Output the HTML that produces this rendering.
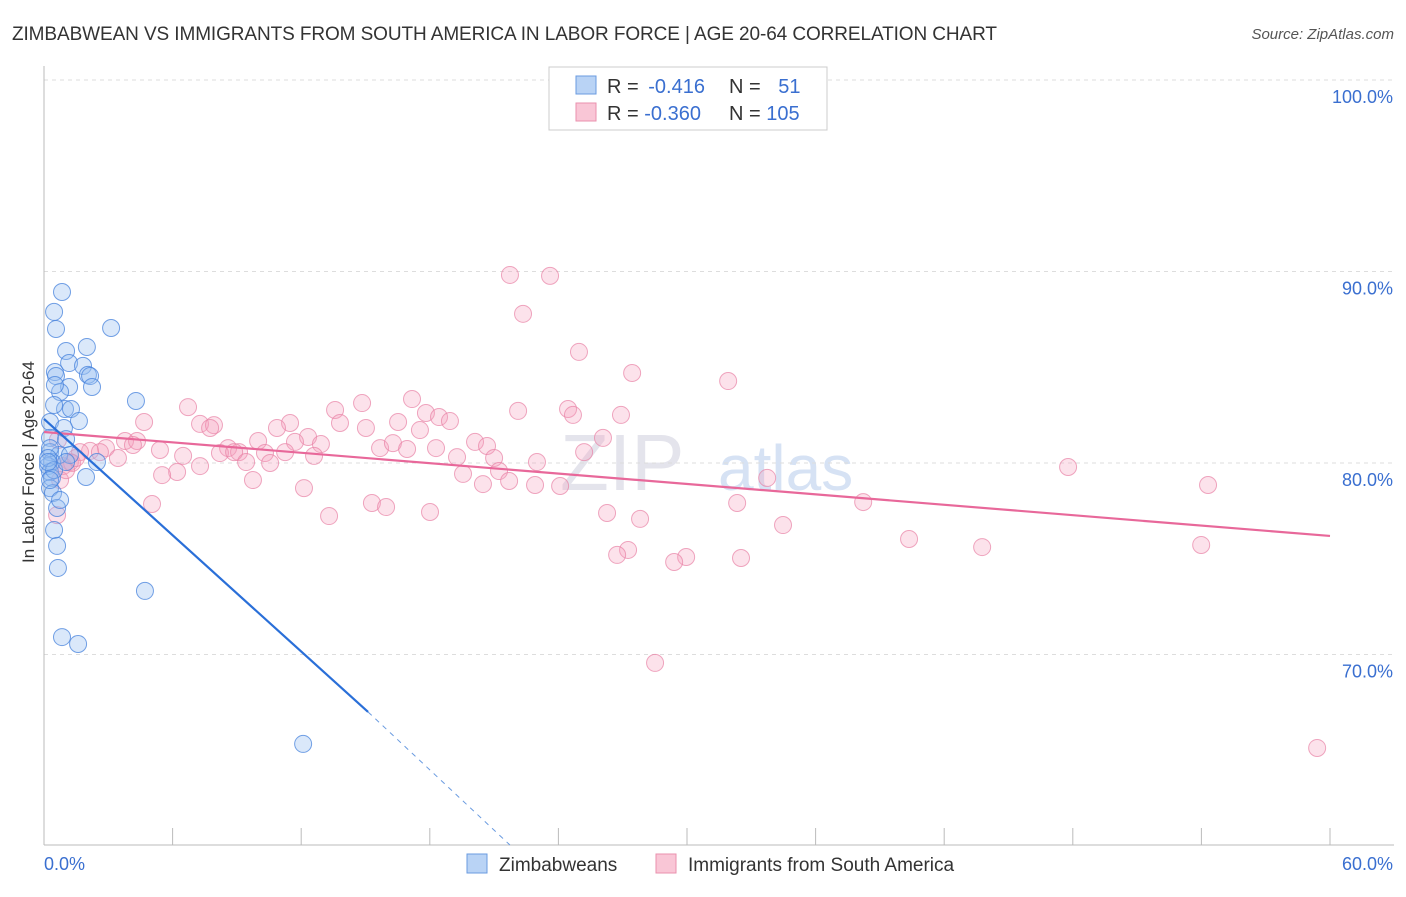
<!DOCTYPE html>
<html><head><meta charset="utf-8"><style>
body{margin:0;background:#fff;font-family:"Liberation Sans",sans-serif}
svg text{font-family:"Liberation Sans",sans-serif}
</style></head><body>
<svg width="1406" height="892" id="c">
<text x="12" y="40" font-size="19" fill="#333" textLength="985">ZIMBABWEAN VS IMMIGRANTS FROM SOUTH AMERICA IN LABOR FORCE | AGE 20-64 CORRELATION CHART</text>
<text x="1394" y="39" font-size="15" fill="#555" text-anchor="end" font-style="italic">Source: ZipAtlas.com</text>
<text x="30" y="458" font-size="17" fill="#333" text-anchor="middle" transform="rotate(-90 34 458)">In Labor Force | Age 20-64</text>
<text x="560" y="490" font-size="80" fill="#e4e4ec" font-family="Liberation Serif">ZIP</text>
<text x="718" y="490" font-size="64" fill="#d6e2f4">atlas</text>
<g id="grid"></g><g id="pts"></g><g id="lines"></g>
<g>
<rect x="549" y="67" width="278" height="63" fill="#fff" stroke="#ccc"/>
<rect x="576" y="76" width="20" height="18" fill="#b9d3f5" stroke="#6a9be0"/>
<rect x="576" y="103" width="20" height="18" fill="#f9c6d6" stroke="#ea90ae"/>
<text x="607" y="93" font-size="20" fill="#333">R = <tspan fill="#3a6fd0" dx="4">-0.416</tspan></text>
<text x="729" y="93" font-size="20" fill="#333">N = <tspan fill="#3a6fd0" dx="12">51</tspan></text>
<text x="607" y="120" font-size="20" fill="#333">R = <tspan fill="#3a6fd0">-0.360</tspan></text>
<text x="729" y="120" font-size="20" fill="#333">N = <tspan fill="#3a6fd0">105</tspan></text>
</g>
<g>
<rect x="467" y="854" width="20" height="19" fill="#b9d3f5" stroke="#6a9be0"/>
<text x="499" y="871" font-size="19" fill="#333">Zimbabweans</text>
<rect x="656" y="854" width="20" height="19" fill="#f9c6d6" stroke="#ea90ae"/>
<text x="688" y="871" font-size="19" fill="#333">Immigrants from South America</text>
</g>
</svg>
<script>
const xTicks=[0,6,12,18,24,30,36,42,48,54,60];
const yTicks=[70,80,90,100];
const blueX=[0.84,0.47,0.56,3.13,1.03,2.0,1.17,1.82,2.05,2.15,0.51,0.56,1.17,2.24,0.75,0.51,4.29,0.98,1.26,0.47,1.63,0.28,0.93,0.28,1.03,0.28,0.7,2.47,0.37,0.19,0.28,1.96,0.37,0.28,0.42,0.61,0.47,0.61,0.65,0.84,1.59,4.71,12.09,0.28,0.19,1.21,0.47,0.75,0.28,0.19,1.03];
const blueY=[88.93,87.89,87.0,87.05,85.85,86.06,85.22,85.07,84.6,84.54,84.75,84.54,83.97,83.97,83.71,84.07,83.24,82.82,82.82,83.03,82.19,82.14,81.83,81.31,81.25,80.57,80.42,80.05,80.05,79.84,79.53,79.27,79.22,78.69,78.43,77.65,76.5,75.67,74.52,70.91,70.55,73.32,65.33,80.78,80.26,80.42,79.63,78.07,79.11,80.05,80.05];
const pinkX=[21.74,23.61,22.35,24.96,27.44,31.92,17.17,6.72,14.84,13.58,17.82,18.43,18.94,22.12,24.45,24.68,26.92,4.67,7.28,7.93,7.75,11.48,10.87,13.81,15.02,16.52,17.54,20.11,20.67,12.32,11.71,12.92,9.99,8.59,9.10,3.78,4.34,4.15,2.89,2.15,2.61,5.41,6.49,8.21,8.87,10.31,11.25,12.60,3.45,1.68,1.21,0.89,1.31,7.28,9.43,10.55,15.68,16.28,16.94,18.29,19.27,21.0,23.0,21.23,19.55,6.21,5.51,9.75,12.13,20.48,21.70,22.91,24.08,25.20,26.08,33.74,47.78,54.31,5.04,15.30,15.96,13.30,18.01,26.27,27.81,32.34,38.22,34.48,40.36,43.77,53.99,27.25,26.74,29.96,29.40,32.52,28.51,59.40,0.61,0.75,1.03,0.65,1.49];
const pinkY=[89.82,89.77,87.79,85.80,84.70,84.28,83.34,82.92,83.13,82.77,82.61,82.40,82.19,82.72,82.82,82.51,82.51,82.14,82.04,81.98,81.83,82.09,81.83,82.09,81.83,82.14,81.72,81.10,80.89,81.36,81.10,80.99,81.15,80.78,80.57,81.15,81.15,80.94,80.78,80.63,80.57,80.68,80.37,80.52,80.57,80.52,80.57,80.37,80.26,80.57,80.05,79.84,80.0,79.84,80.05,80.0,80.78,81.04,80.73,80.78,80.31,80.26,80.05,79.58,79.43,79.53,79.37,79.11,78.69,78.90,79.06,78.85,78.80,80.57,81.31,79.22,79.79,78.85,77.86,77.91,77.70,77.23,77.44,77.39,77.08,77.91,77.96,76.76,76.03,75.61,75.72,75.46,75.20,75.09,74.83,75.04,69.56,65.12,77.28,79.11,79.63,81.20,80.26];
const blueTrend=[[0,82.3],[15.12,67.0]];
const blueDash=[[15.12,67.0],[21.74,60.05]];
const pinkTrend=[[0,81.62],[60,76.19]];
const sx=v=>44+v/60*1286, sy=v=>80+(100-v)*19.15;
const NS="http://www.w3.org/2000/svg";
function mk(t,a,p){const e=document.createElementNS(NS,t);for(const k in a)e.setAttribute(k,a[k]);document.getElementById(p).appendChild(e);return e;}
yTicks.forEach(v=>{
 const l=mk('line',{x1:44,x2:1394,y1:sy(v),y2:sy(v),stroke:'#ddd','stroke-dasharray':'4,4'},'grid');
 
 
 const t=mk('text',{x:1393,y:sy(v)+23,'font-size':18,fill:'#3a6fd0','text-anchor':'end'},'grid');t.textContent=v.toFixed(1)+'%';
 
 
});
const ax=mk('line',{x1:44,x2:44,y1:66,y2:845,stroke:'#bbb'},'grid');


const bx=mk('line',{x1:44,x2:1394,y1:845,y2:845,stroke:'#bbb'},'grid');


xTicks.forEach(v=>{
 const l=mk('line',{x1:sx(v),x2:sx(v),y1:828,y2:845,stroke:'#bbb'},'grid');
 
 
});
[[0,'start'],[60,'end']].forEach(([v,a])=>{
 const t=mk('text',{x:sx(v)+(v?63:0),y:870,'font-size':18,fill:'#3a6fd0','text-anchor':a},'grid');t.textContent=v.toFixed(1)+'%';
 
 
});
pinkX.forEach((x,i)=>{
 const c=mk('circle',{cx:sx(x),cy:sy(pinkY[i]),r:8.5,fill:'rgba(244,160,188,0.3)',stroke:'rgba(232,130,165,0.7)','stroke-width':1},'pts');
 
 
});
blueX.forEach((x,i)=>{
 const c=mk('circle',{cx:sx(x),cy:sy(blueY[i]),r:8.5,fill:'rgba(150,190,240,0.35)',stroke:'rgba(70,130,220,0.75)','stroke-width':1},'pts');
 
 
});
function tl(p,col,w,dash,name){
 const a={x1:sx(p[0][0]),y1:sy(p[0][1]),x2:sx(p[1][0]),y2:sy(p[1][1]),stroke:col,'stroke-width':w};
 if(dash)a['stroke-dasharray']=dash;
 const l=mk('line',a,'lines');
 
 
}
tl(pinkTrend,'#e8689a',2.2,null,'immigrant-trendline');
tl(blueTrend,'#2a6fd8',2.2,null,'zimbabwean-trendline');
tl(blueDash,'#6a9be0',1,'5,5','zimbabwean-trendline-extension');
</script>
</body></html>
